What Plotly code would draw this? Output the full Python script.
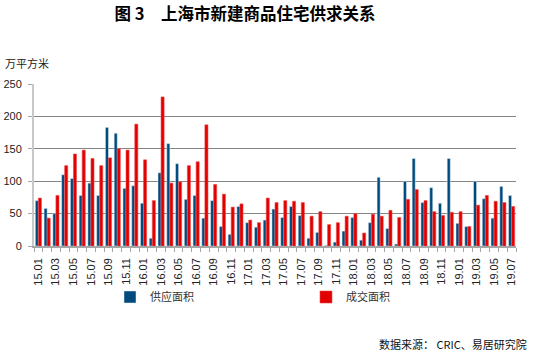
import plotly.graph_objects as go

months = [f"{y}.{m:02d}" for y in range(15, 20) for m in range(1, 13)][:55]

supply = [70, 58, 50, 110, 104, 78, 97, 78, 183, 174, 89, 93,
          66, 12, 113, 158, 127, 72, 78, 43, 70, 30, 18, 61,
          36, 29, 40, 57, 44, 61, 47, 12, 21, 1, 6, 23,
          44, 9, 36, 106, 27, 3, 100, 135, 67, 90, 66, 135,
          35, 30, 100, 73, 43, 92, 78]

deals = [74, 43, 78, 124, 142, 148, 135, 124, 136, 150, 148, 188,
         133, 70, 230, 97, 99, 124, 130, 187, 95, 80, 60, 65,
         40, 36, 74, 67, 70, 69, 67, 46, 53, 33, 36, 46,
         50, 20, 49, 46, 55, 44, 72, 87, 70, 53, 47, 52,
         53, 30, 63, 78, 69, 67, 61]

tick_labels = months[::2]

x_idx = list(range(len(months)))
font_lat = "Liberation Sans, Noto Sans CJK SC, sans-serif"

fig = go.Figure()
fig.add_trace(go.Bar(x=x_idx, y=supply, name="供应面积", marker_color="#004B7E"))
fig.add_trace(go.Bar(x=x_idx, y=deals, name="成交面积", marker_color="#E00000",
                     marker_line_color="#F04848", marker_line_width=0.6))

fig.update_layout(
    width=535, height=351,
    margin=dict(l=34, r=19, t=84, b=105, autoexpand=False),
    paper_bgcolor="white", plot_bgcolor="white",
    barmode="group", bargap=0.3, bargroupgap=0,
    font=dict(family=font_lat, size=11, color="#222222"),
    title=dict(text="图 3　上海市新建商品住宅供求关系",
               x=245/535, xanchor="center", xref="container",
               y=1 - 14/351, yanchor="middle", yref="container",
               font=dict(family="Noto Sans CJK SC", size=16.5, color="#000000", weight="bold")),
    legend=dict(orientation="h", xref="container", yref="container",
                x=(110)/535, xanchor="left", y=1 - 297/351, yanchor="middle",
                bgcolor="rgba(0,0,0,0)",
                entrywidth=151, entrywidthmode="pixels",
                font=dict(family="Noto Sans CJK SC", size=11, color="#333333")),
    showlegend=True,
)

fig.update_xaxes(
    automargin=False,
    range=[-0.5, len(months) - 0.5],
    tickmode="array", tickvals=x_idx[::2], ticktext=tick_labels,
    tickangle=-90, ticks="", ticklabelstandoff=6,
    tickfont=dict(size=11, color="#222222"),
    showline=True, linecolor="#A6A6A6", linewidth=1.5,
    showgrid=False, zeroline=False,
    minor=dict(tickmode="array", tickvals=[i - 0.5 for i in range(len(months) + 1)],
               ticks="outside", ticklen=4, tickcolor="#A6A6A6", tickwidth=1, showgrid=False),
)
fig.update_yaxes(
    automargin=False,
    range=[0, 250], dtick=50,
    ticks="outside", ticklen=4, tickcolor="#A6A6A6",
    ticklabelstandoff=4,
    tickfont=dict(size=11, color="#222222"),
    showline=True, linecolor="#C8C8C8", linewidth=2,
    showgrid=True, gridcolor="#858585", gridwidth=1.2,
    zeroline=False,
)

fig.add_annotation(text="万平方米", xref="paper", yref="paper",
                   x=-31/481, y=1 + 21/162, xanchor="left", yanchor="middle",
                   showarrow=False, font=dict(family="Noto Sans CJK SC", size=11, color="#222222"))
fig.add_annotation(text="数据来源： CRIC、易居研究院", xref="paper", yref="paper",
                   x=(528 - 34)/481, y=-(344 - 246)/162, xanchor="right", yanchor="middle",
                   showarrow=False, font=dict(family="Noto Sans CJK SC", size=11, color="#111111"))

fig.write_html("out.html")
